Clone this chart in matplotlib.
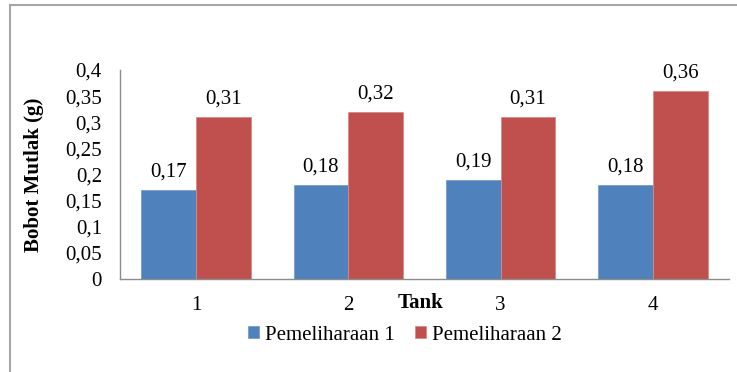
import matplotlib
matplotlib.use("Agg")
import matplotlib.pyplot as plt
from matplotlib.patches import Rectangle
import numpy as np

categories = ["1", "2", "3", "4"]
series1_name = "Pemeliharaan 1"
series2_name = "Pemeliharaan 2"
series1 = [0.17, 0.18, 0.19, 0.18]
series2 = [0.31, 0.32, 0.31, 0.36]
ytick_values = [0, 0.05, 0.1, 0.15, 0.2, 0.25, 0.3, 0.35, 0.4]
ytick_labels = ["0", "0,05", "0,1", "0,15", "0,2", "0,25", "0,3", "0,35", "0,4"]

def fmt(v):
    return f"{v:.2f}".replace(".", ",")

plt.rcParams['font.family'] = ['Liberation Serif', 'DejaVu Serif']
FS = 15

fig = plt.figure(figsize=(7.37, 3.72), dpi=100)
ax = fig.add_axes([120/737, 1-279/372, (729-120)/737, (279-70)/372])

blue = "#4F81BD"
red = "#C0504D"
x = np.arange(len(categories))
w = 0.36
b1 = ax.bar(x - w/2, series1, w, color=blue, edgecolor="#7A9CCB", linewidth=0.6, label=series1_name)
b2 = ax.bar(x + w/2, series2, w, color=red, edgecolor="#D98A88", linewidth=0.6, label=series2_name)

for rect, v in zip(b1, series1):
    ax.annotate(fmt(v), (rect.get_x() + rect.get_width()/2, v), xytext=(0, 6),
                textcoords="offset points", ha="center", va="bottom", fontsize=FS)
for rect, v in zip(b2, series2):
    ax.annotate(fmt(v), (rect.get_x() + rect.get_width()/2, v), xytext=(0, 6),
                textcoords="offset points", ha="center", va="bottom", fontsize=FS)

ax.set_xlim(-0.5, len(categories) - 0.5)
ax.set_ylim(0, 0.4)
ax.set_yticks(ytick_values)
ax.set_yticklabels(ytick_labels, fontsize=FS)
ax.set_xticks(x)
ax.set_xticklabels(categories, fontsize=FS)
ax.tick_params(axis="y", length=0, pad=13)
ax.tick_params(axis="x", length=0, pad=12)
for s in ["top", "right"]:
    ax.spines[s].set_visible(False)
ax.spines["left"].set_color("#8C8C8C")
ax.spines["bottom"].set_color("#8C8C8C")
ax.spines["left"].set_linewidth(1.0)
ax.spines["bottom"].set_linewidth(1.0)

ax.set_ylabel("Bobot Mutlak (g)", fontsize=FS, fontweight="bold")
ax.yaxis.set_label_coords(-76/609, 0.5)

fig.text(421/737, 1-303/372, "Tank", fontsize=FS, fontweight="bold", ha="center", va="center")

leg = fig.legend(handles=[b1, b2], labels=[series1_name, series2_name],
                 loc="center", bbox_to_anchor=(405/737, 1-335/372), ncol=2, frameon=False,
                 fontsize=FS, handlelength=0.5, handleheight=0.5, handletextpad=0.3,
                 columnspacing=1.0)

fig.patches.append(Rectangle((10/737, -0.2), 1.2, 1.2 - 5/372, transform=fig.transFigure,
                             fill=False, edgecolor="#A6A6A6", linewidth=1.5))

fig.savefig("out.png", dpi=100)
